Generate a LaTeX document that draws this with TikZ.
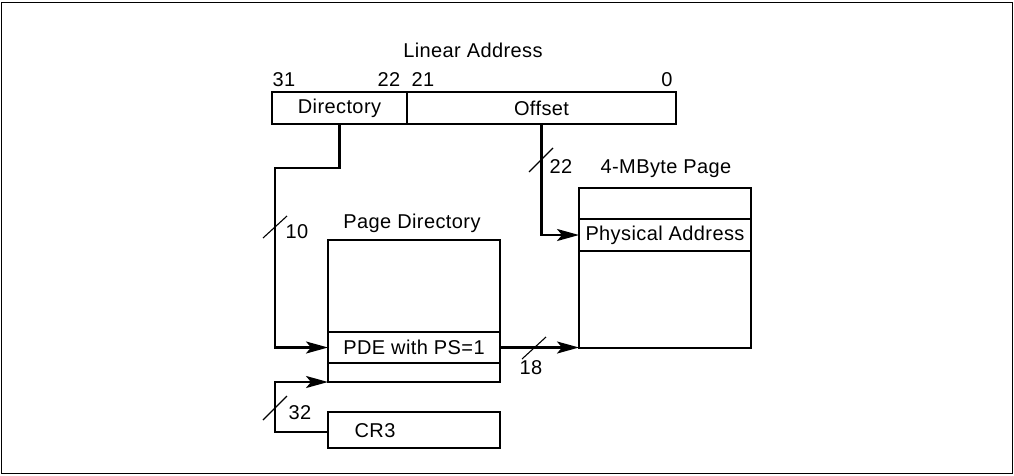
\documentclass[tikz,border=0pt]{standalone}
\usepackage{fontspec}
\setmainfont{Liberation Sans}[LetterSpace=2]
\usetikzlibrary{arrows.meta}
\begin{document}
\begin{tikzpicture}[x=1pt,y=-1pt,
  font=\fontsize{20pt}{23pt}\selectfont,
  box/.style={draw,line width=2.4pt,rectangle,inner sep=0pt,outer sep=0pt},
  lbl/.style={inner sep=0pt,anchor=center},
  arr/.style={line width=2.4pt,-{Stealth[length=22pt,width=12pt,inset=5pt]}},
  tick/.style={line width=1.1pt}]
\useasboundingbox (0,0) rectangle (1014,475);
\draw[line width=1.6pt] (1.5,2.5) rectangle (1012.5,473.5);

% linear address
\node[lbl] (la) at (473,50) {Linear Address};
\node[lbl] (b31) at (284,80) {31};
\node[lbl] (b22) at (389,80) {22};
\node[lbl] (b21) at (423,80) {21};
\node[lbl] (b0) at (667,80) {0};
\node[box,minimum width=135pt,minimum height=32pt] (dir) at (339.5,108) {\raisebox{-1.5pt}{Directory}};
\node[box,minimum width=269pt,minimum height=32pt] (off) at (541.5,108) {\raisebox{-1.5pt}{Offset}};

% page directory
\node[lbl] (pdl) at (412,223) {Page Directory};
\node[box,minimum width=172pt,minimum height=92pt] (pdt) at (414,286) {};
\node[box,minimum width=172pt,minimum height=31pt] (pde) at (414,347.5) {PDE with PS=1};
\node[box,minimum width=172pt,minimum height=19pt] (pdb) at (414,372.5) {};

% CR3
\node[box,minimum width=172pt,minimum height=36pt] (cr3) at (414,430) {};
\node[lbl] (cr3t) at (375,431) {CR3};

% 4-MByte page
\node[lbl] (pgl) at (666,169) {4-MByte Page};
\node[box,minimum width=172pt,minimum height=31pt] (pgt) at (665,203.5) {};
\node[box,minimum width=172pt,minimum height=32pt] (pa) at (665,235) {Physical Address};
\node[box,minimum width=172pt,minimum height=97pt] (pgb) at (665,299.5) {};

% connectors
\coordinate (bendA) at (275,168);
\coordinate (bendC) at (275,432);
\draw[arr] (dir.south) |- (bendA) |- (pde.west);
\draw[arr] (off.south) |- (pa.west);
\draw[arr] (pde.east) -- (pde.east -| pgb.west);
\draw[arr] (cr3.west |- bendC) -- (bendC) |- (pdb.south west);

% ticks and widths
\draw[tick] (275,227) ++(-12,11) -- ++(24,-22);
\node[lbl] (w10) at (297,232) {10};
\draw[tick] (541,160) ++(-12,12) -- ++(24,-24);
\node[lbl] (w22) at (561,167) {22};
\draw[tick] (534,348) ++(-12,11) -- ++(24,-22);
\node[lbl] (w18) at (531,368) {18};
\draw[tick] (275,408) ++(-12,12) -- ++(24,-24);
\node[lbl] (w32) at (300,413) {32};
\end{tikzpicture}
\end{document}
